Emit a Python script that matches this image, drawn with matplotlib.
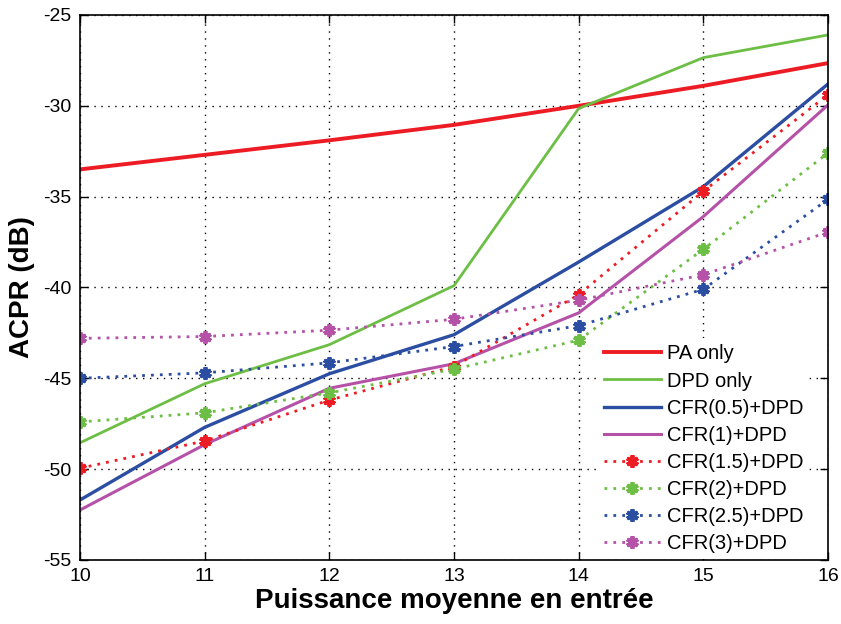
import matplotlib
matplotlib.use("Agg")
import matplotlib.pyplot as plt

x = [10, 11, 12, 13, 14, 15, 16]
pa_only   = [-33.5, -32.7, -31.9, -31.05, -30.0, -28.9, -27.65]
dpd_only  = [-48.55, -45.3, -43.15, -39.9, -30.15, -27.35, -26.1]
cfr_05    = [-51.7, -47.7, -44.75, -42.6, -38.6, -34.45, -28.8]
cfr_1     = [-52.25, -48.65, -45.55, -44.2, -41.4, -36.1, -29.95]
cfr_15    = [-49.95, -48.45, -46.2, -44.35, -40.4, -34.7, -29.4]
cfr_2     = [-47.4, -46.9, -45.8, -44.5, -42.9, -37.9, -32.6]
cfr_25    = [-45.0, -44.7, -44.15, -43.25, -42.1, -40.1, -35.15]
cfr_3     = [-42.8, -42.7, -42.35, -41.75, -40.7, -39.3, -36.95]

labels = ["PA only", "DPD only", "CFR(0.5)+DPD", "CFR(1)+DPD",
          "CFR(1.5)+DPD", "CFR(2)+DPD", "CFR(2.5)+DPD", "CFR(3)+DPD"]
xticks = [10, 11, 12, 13, 14, 15, 16]
yticks = [-55, -50, -45, -40, -35, -30, -25]

RED = "#ED1C24"
GREEN = "#6DBE45"
BLUE = "#2B4EA2"
MAG = "#B552A8"

plt.rcParams['font.family'] = ['Liberation Sans', 'DejaVu Sans']
plt.rcParams['axes.unicode_minus'] = False

fig = plt.figure(figsize=(8.41, 6.24), dpi=100)
ax = fig.add_axes([0.0951, 0.1026, 0.8894, 0.8734])

ax.plot(x, pa_only, color=RED, lw=2.8, label=labels[0])
ax.plot(x, dpd_only, color=GREEN, lw=2.0, label=labels[1])
ax.plot(x, cfr_05, color=BLUE, lw=2.4, label=labels[2])
ax.plot(x, cfr_1, color=MAG, lw=2.2, label=labels[3])

mk = dict(marker=(6, 2, 0), ms=9, mew=2.8, ls=(0, (1, 2.2)), lw=2.0)
ax.plot(x, cfr_15, color=RED, label=labels[4], **mk)
ax.plot(x, cfr_2, color=GREEN, label=labels[5], **mk)
ax.plot(x, cfr_25, color=BLUE, label=labels[6], **mk)
ax.plot(x, cfr_3, color=MAG, label=labels[7], **mk)

ax.set_xlim(10, 16)
ax.set_ylim(-55, -25)
ax.set_xticks(xticks)
ax.set_yticks(yticks)
ax.tick_params(direction='in', top=True, right=True, labelsize=14, length=6, width=1, pad=6)
ax.grid(True, color='black', ls=(0, (1, 4)), lw=1.0)
for s in ax.spines.values():
    s.set_linewidth(1.2)
    s.set_zorder(6)

ax.set_xlabel("Puissance moyenne en entrée", fontsize=20, fontweight='bold', labelpad=2)
ax.set_ylabel("ACPR (dB)", fontsize=20, fontweight='bold', labelpad=6)

leg = ax.legend(loc='lower right', bbox_to_anchor=(0.975, 0.002), fontsize=14.5,
                frameon=True, fancybox=False,
                handlelength=2.8, handletextpad=0.3, labelspacing=0.40,
                borderaxespad=0.0, borderpad=0.3)
leg.get_frame().set_edgecolor('none')
leg.get_frame().set_facecolor('white')
leg.get_frame().set_alpha(1.0)

fig.savefig("out.png", dpi=100)
